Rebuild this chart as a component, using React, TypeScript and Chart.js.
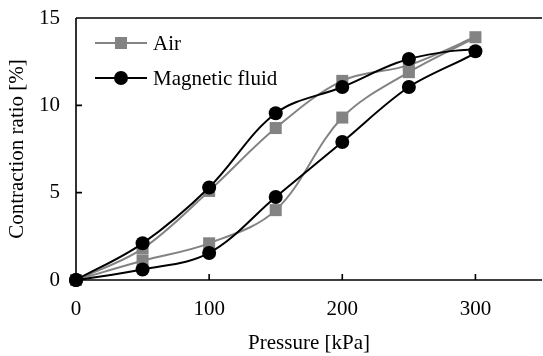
import React, { useEffect, useRef } from 'react';
import { Chart, registerables } from 'chart.js';

Chart.register(...registerables);

// Loading then unloading cycle
const pressure = [0, 50, 100, 150, 200, 250, 300, 250, 200, 150, 100, 50, 0];
const airRatio = [0, 1.1, 2.1, 4.0, 9.3, 11.9, 13.9, 12.3, 11.4, 8.7, 5.1, 1.8, 0];
const fluidRatio = [0, 0.6, 1.55, 4.75, 7.9, 11.05, 13.1, 12.65, 11.05, 9.55, 5.3, 2.1, 0];
const seriesNames = ['Air', 'Magnetic fluid'];
const xTicks = [0, 100, 200, 300];
const yTicks = [0, 5, 10, 15];
const xTitle = 'Pressure [kPa]';
const yTitle = 'Contraction ratio [%]';

const FONT = '"Liberation Serif", "Times New Roman", serif';
const FS = 21;
const GRAY = '#838383';
const BLACK = '#000000';

const framePlugin = {
  id: 'frame',
  beforeDatasetsDraw(chart: any) {
    const { ctx, chartArea } = chart;
    const { left, right, top, bottom } = chartArea;
    const xs = chart.scales.x;
    const ys = chart.scales.y;
    ctx.save();
    ctx.strokeStyle = '#000';
    ctx.lineWidth = 1.6;
    ctx.beginPath();
    ctx.moveTo(left, top);
    ctx.lineTo(right, top);
    ctx.moveTo(left, top);
    ctx.lineTo(left, bottom);
    ctx.lineTo(right, bottom);
    yTicks.forEach((v) => {
      const y = ys.getPixelForValue(v);
      ctx.moveTo(left, y);
      ctx.lineTo(left + 6, y);
    });
    xTicks.forEach((v) => {
      const x = xs.getPixelForValue(v);
      ctx.moveTo(x, bottom);
      ctx.lineTo(x, bottom - 6);
    });
    ctx.stroke();
    ctx.restore();
  },
  afterDraw(chart: any) {
    const { ctx } = chart;
    const rows = [
      { name: seriesNames[0], color: GRAY, square: true, y: 43 },
      { name: seriesNames[1], color: BLACK, square: false, y: 78 },
    ];
    ctx.save();
    rows.forEach((r) => {
      ctx.strokeStyle = r.color;
      ctx.fillStyle = r.color;
      ctx.lineWidth = 2;
      ctx.beginPath();
      ctx.moveTo(95, r.y);
      ctx.lineTo(147, r.y);
      ctx.stroke();
      if (r.square) {
        ctx.fillRect(121 - 6, r.y - 6, 12, 12);
      } else {
        ctx.beginPath();
        ctx.arc(121, r.y, 7, 0, Math.PI * 2);
        ctx.fill();
      }
      ctx.fillStyle = '#000';
      ctx.font = `${FS}px ${FONT}`;
      ctx.textBaseline = 'middle';
      ctx.textAlign = 'left';
      ctx.fillText(r.name, 153, r.y + 1);
    });
    ctx.restore();
  },
};

export default function App() {
  const ref = useRef<HTMLCanvasElement>(null);
  useEffect(() => {
    if (!ref.current) return;
    const chart = new Chart(ref.current, {
      type: 'scatter',
      data: {
        datasets: [
          {
            label: seriesNames[0],
            data: pressure.map((p, i) => ({ x: p, y: airRatio[i] })),
            showLine: true,
            borderColor: GRAY,
            backgroundColor: GRAY,
            borderWidth: 2,
            pointStyle: 'rect',
            pointRadius: 8.5,
            pointBorderWidth: 0,
            tension: 0.35,
            clip: false,
            order: 2,
          },
          {
            label: seriesNames[1],
            data: pressure.map((p, i) => ({ x: p, y: fluidRatio[i] })),
            showLine: true,
            borderColor: BLACK,
            backgroundColor: BLACK,
            borderWidth: 2,
            pointStyle: 'circle',
            pointRadius: 7,
            pointBorderWidth: 0,
            tension: 0.35,
            clip: false,
            order: 1,
          },
        ],
      },
      options: {
        animation: false,
        responsive: false,
        maintainAspectRatio: false,
        layout: { autoPadding: false, padding: { top: 18, right: 1, left: 0, bottom: 0 } },
        plugins: { legend: { display: false }, tooltip: { enabled: false } },
        scales: {
          x: {
            type: 'linear',
            min: 0,
            max: 350,
            afterBuildTicks: (s: any) => {
              s.ticks = xTicks.map((v) => ({ value: v }));
            },
            afterFit: (s: any) => {
              s.height = 76;
              s.paddingLeft = 0;
              s.paddingRight = 0;
            },
            grid: { display: false, drawTicks: false },
            border: { display: false },
            ticks: { color: '#000', font: { family: FONT, size: FS }, padding: 17, maxRotation: 0 },
            title: {
              display: true,
              text: xTitle,
              color: '#000',
              font: { family: FONT, size: FS },
              padding: { top: 0, bottom: 0 },
            },
          },
          y: {
            type: 'linear',
            min: 0,
            max: 15,
            afterBuildTicks: (s: any) => {
              s.ticks = yTicks.map((v) => ({ value: v }));
            },
            afterFit: (s: any) => {
              s.width = 76;
              s.paddingTop = 0;
              s.paddingBottom = 0;
            },
            grid: { display: false, drawTicks: false },
            border: { display: false },
            ticks: { color: '#000', font: { family: FONT, size: FS }, padding: 16 },
            title: {
              display: true,
              text: yTitle,
              color: '#000',
              font: { family: FONT, size: FS },
              padding: { top: 5, bottom: 0 },
            },
          },
        },
      },
      plugins: [framePlugin],
    });
    return () => chart.destroy();
  }, []);
  return (
    <div style={{ position: 'absolute', left: 0, top: 0, width: 543, height: 356, background: '#fff' }}>
      <canvas ref={ref} width={543} height={356} style={{ width: 543, height: 356, display: 'block' }} />
    </div>
  );
}
